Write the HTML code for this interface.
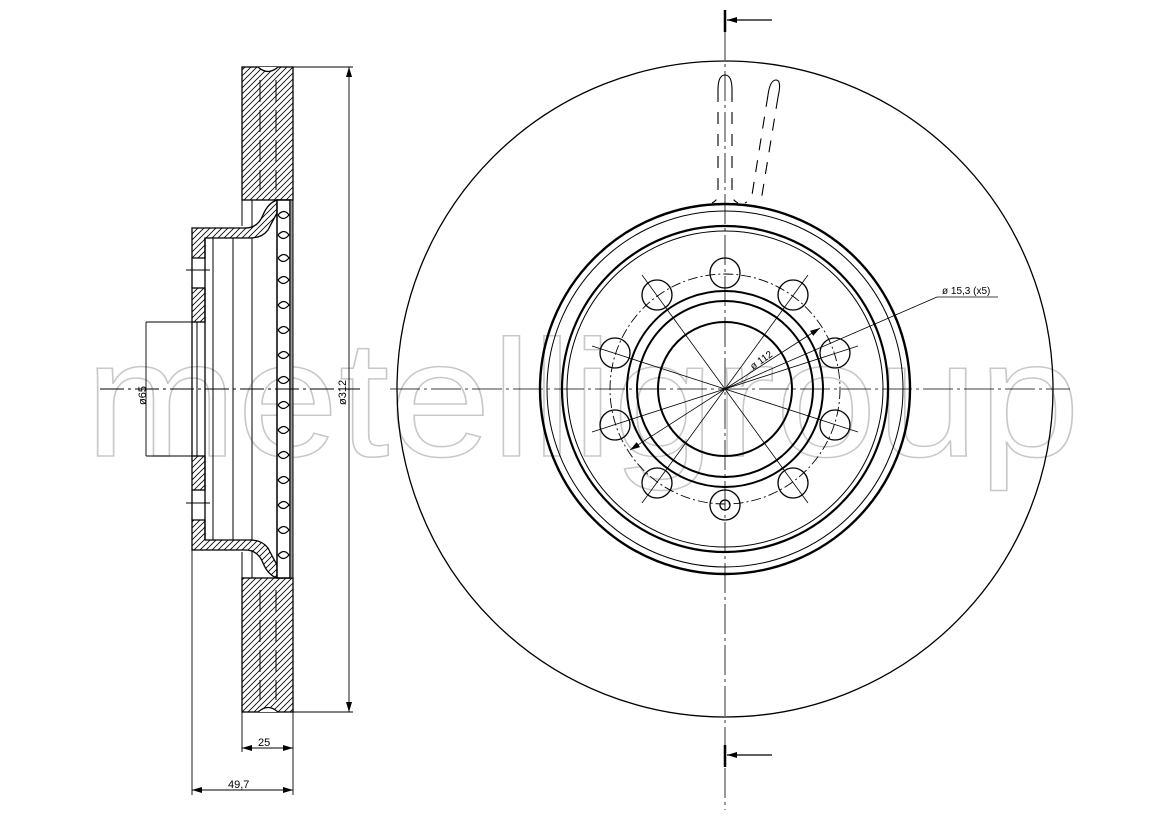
<!DOCTYPE html>
<html><head><meta charset="utf-8"><style>
html,body{margin:0;padding:0;background:#fff;width:1169px;height:827px;overflow:hidden}
svg{display:block}
text{font-family:"Liberation Sans",sans-serif}
</style></head><body>
<svg width="1169" height="827" viewBox="0 0 1169 827" xmlns="http://www.w3.org/2000/svg">
<defs>
<pattern id="h" width="6" height="6" patternUnits="userSpaceOnUse">
<path d="M-1,1 L1,-1 M0,6 L6,0 M5,7 L7,5" stroke="#000" stroke-width="0.8"/>
</pattern>
<marker id="a" markerWidth="10" markerHeight="6" refX="10" refY="3" orient="auto" markerUnits="userSpaceOnUse"><path d="M0,0 L10,3 L0,6 z" fill="#000"/></marker>
<marker id="b" markerWidth="10" markerHeight="6" refX="0" refY="3" orient="auto" markerUnits="userSpaceOnUse"><path d="M10,0 L0,3 L10,6 z" fill="#000"/></marker>
</defs>

<!-- watermark -->
<text x="85" y="456" font-size="166" textLength="995" lengthAdjust="spacingAndGlyphs" fill="#fff" stroke="#c8c8c8" stroke-width="1.5" font-family="Liberation Sans,sans-serif">metelligroup</text>

<!-- ===== side view ===== -->
<g stroke="#000" fill="none" stroke-width="1.3">
<rect x="242" y="67" width="51" height="133" fill="url(#h)"/>
<rect x="242" y="578" width="51" height="134" fill="url(#h)"/>
<path d="M258,67 Q268,76 278,67" fill="#fff"/>
<path d="M258,712 Q268,703 278,712" fill="#fff"/>
<!-- top hat -->
<path d="M192,258 V228 H245 Q258,228 263,215 Q268,203 277,200 V213 Q272,222 268,230 Q262,238 250,238 H205 V258 Z" fill="url(#h)"/>
<path d="M242,200 V226 M252,200 V228" stroke-width="1"/>
<rect x="192" y="288" width="13" height="34" fill="url(#h)"/>
<!-- bottom hat -->
<path d="M192,520 V550 H245 Q258,550 263,563 Q268,575 277,578 V565 Q272,556 268,548 Q262,540 250,540 H205 V520 Z" fill="url(#h)"/>
<path d="M242,578 V552 M252,578 V550" stroke-width="1"/>
<rect x="192" y="456" width="13" height="34" fill="url(#h)"/>
<path d="M192,258 V288 M192,490 V520" />
<!-- inner vertical lines -->
<line x1="205" y1="238" x2="205" y2="540"/>
<line x1="213" y1="238" x2="213" y2="540" stroke-width="1"/>
<line x1="233" y1="238" x2="233" y2="540" stroke-width="1"/>
<line x1="252" y1="238" x2="252" y2="540" stroke-width="1"/>
<line x1="197" y1="322" x2="197" y2="456" stroke-width="1"/>
<line x1="192" y1="322" x2="192" y2="456" stroke-width="1.3"/>
<!-- vent column -->
<rect x="277" y="200" width="13" height="378" fill="#fff" stroke-width="1.5"/>
<rect x="290" y="200" width="3" height="378" fill="#999" stroke="#000" stroke-width="1"/>
<g stroke-width="1.2">
<path d="M278,215 q6,-7 11,0 q-6,7 -11,0 M278,235 q6,-7 11,0 q-6,7 -11,0 M278,258 q6,-7 11,0 q-6,7 -11,0 M278,280 q6,-7 11,0 q-6,7 -11,0 M278,305 q6,-7 11,0 q-6,7 -11,0 M278,330 q6,-7 11,0 q-6,7 -11,0 M278,355 q6,-7 11,0 q-6,7 -11,0 M278,380 q6,-7 11,0 q-6,7 -11,0 M278,405 q6,-7 11,0 q-6,7 -11,0 M278,430 q6,-7 11,0 q-6,7 -11,0 M278,455 q6,-7 11,0 q-6,7 -11,0 M278,480 q6,-7 11,0 q-6,7 -11,0 M278,505 q6,-7 11,0 q-6,7 -11,0 M278,530 q6,-7 11,0 q-6,7 -11,0 M278,555 q6,-7 11,0 q-6,7 -11,0"/>
</g>
<g stroke-width="1" stroke-dasharray="22,8">
<line x1="260" y1="80" x2="260" y2="190"/><line x1="276" y1="80" x2="276" y2="190"/>
<line x1="260" y1="590" x2="260" y2="700"/><line x1="276" y1="590" x2="276" y2="700"/>
</g>
<!-- dims -->
<g stroke-width="0.9">
<line x1="293" y1="67" x2="353" y2="67"/><line x1="293" y1="712" x2="353" y2="712"/>
<line x1="349" y1="67" x2="349" y2="712" marker-start="url(#b)" marker-end="url(#a)"/>
<line x1="146" y1="322" x2="192" y2="322"/><line x1="146" y1="456" x2="192" y2="456"/>
<line x1="146" y1="322" x2="146" y2="456"/>
<line x1="242" y1="712" x2="242" y2="752"/><line x1="293" y1="712" x2="293" y2="795"/>
<line x1="192" y1="550" x2="192" y2="795"/>
<line x1="242" y1="748" x2="293" y2="748" marker-start="url(#b)" marker-end="url(#a)"/>
<line x1="192" y1="790" x2="293" y2="790" marker-start="url(#b)" marker-end="url(#a)"/>
<line x1="186" y1="270" x2="210" y2="270"/><line x1="186" y1="503" x2="210" y2="503"/>
<line x1="100" y1="389" x2="360" y2="389" stroke-dasharray="24,4,3,4"/>
</g>
</g>
<text x="258" y="746" font-size="11">25</text>
<text x="228" y="788" font-size="11">49,7</text>
<text transform="translate(346,405) rotate(-90)" font-size="11">ø312</text>
<text transform="translate(146,405) rotate(-90)" font-size="11">ø65</text>

<!-- ===== front view ===== -->
<g stroke="#000" fill="none">
<circle cx="725" cy="389" r="328" stroke-width="1.3"/>
<circle cx="725" cy="389" r="185" stroke-width="2.4"/>
<circle cx="725" cy="389" r="178" stroke-width="1"/>
<circle cx="725" cy="389" r="163" stroke-width="2.2"/>
<circle cx="725" cy="389" r="158" stroke-width="1"/>
<circle cx="725" cy="389" r="115" stroke-width="0.9" stroke-dasharray="10,3,2,3"/>
<circle cx="725" cy="389" r="98" stroke-width="2"/>
<circle cx="725" cy="389" r="88" stroke-width="2"/>
<circle cx="725" cy="389" r="67" stroke-width="2"/>
<g stroke-width="1.3">
<circle cx="725" cy="273" r="15"/>
<circle cx="793" cy="295" r="15"/>
<circle cx="835" cy="353" r="15"/>
<circle cx="835" cy="425" r="15"/>
<circle cx="793" cy="483" r="15"/>
<circle cx="725" cy="505" r="15"/>
<circle cx="725" cy="505" r="5"/>
<circle cx="657" cy="483" r="15"/>
<circle cx="615" cy="425" r="15"/>
<circle cx="615" cy="353" r="15"/>
<circle cx="657" cy="295" r="15"/>
</g>
<g stroke-width="0.8">
<line x1="390" y1="389" x2="1070" y2="389" stroke-dasharray="30,4,3,4"/>
<line x1="725" y1="30" x2="725" y2="810" stroke-dasharray="30,4,3,4"/>
<line x1="642" y1="275" x2="808" y2="503"/>
<line x1="808" y1="275" x2="642" y2="503"/>
<line x1="592" y1="346" x2="858" y2="432"/>
<line x1="592" y1="432" x2="858" y2="346"/>
<line x1="630" y1="450" x2="820" y2="328" marker-start="url(#b)" marker-end="url(#a)"/>
<line x1="725" y1="389" x2="937" y2="297"/>
<line x1="937" y1="297" x2="998" y2="297"/>
</g>
<line x1="725" y1="10" x2="725" y2="32" stroke-width="2.5"/>
<line x1="772" y1="20" x2="727" y2="20" stroke-width="1.3" marker-end="url(#a)"/>
<line x1="725" y1="745" x2="725" y2="767" stroke-width="2.5"/>
<line x1="772" y1="755" x2="727" y2="755" stroke-width="1.3" marker-end="url(#a)"/>
<g stroke-width="1.1">
<path d="M718,90 Q718,75 725,75 Q732,75 732,90"/>
<path d="M768,95 Q770,80 776,80 Q782,80 778,97"/>
<path d="M718,90 V195 Q718,200 712,203 M732,90 V195 Q732,200 738,203" stroke-dasharray="12,10"/>
<path d="M768,95 L752,195 Q750,200 745,203 M778,97 L762,195 Q761,200 765,203" stroke-dasharray="12,10"/>
</g>
</g>
<text x="942" y="294" font-size="10">ø 15,3 (x5)</text>
<text transform="translate(753,370) rotate(-35)" font-size="10">ø 112</text>
</svg>
</body></html>
